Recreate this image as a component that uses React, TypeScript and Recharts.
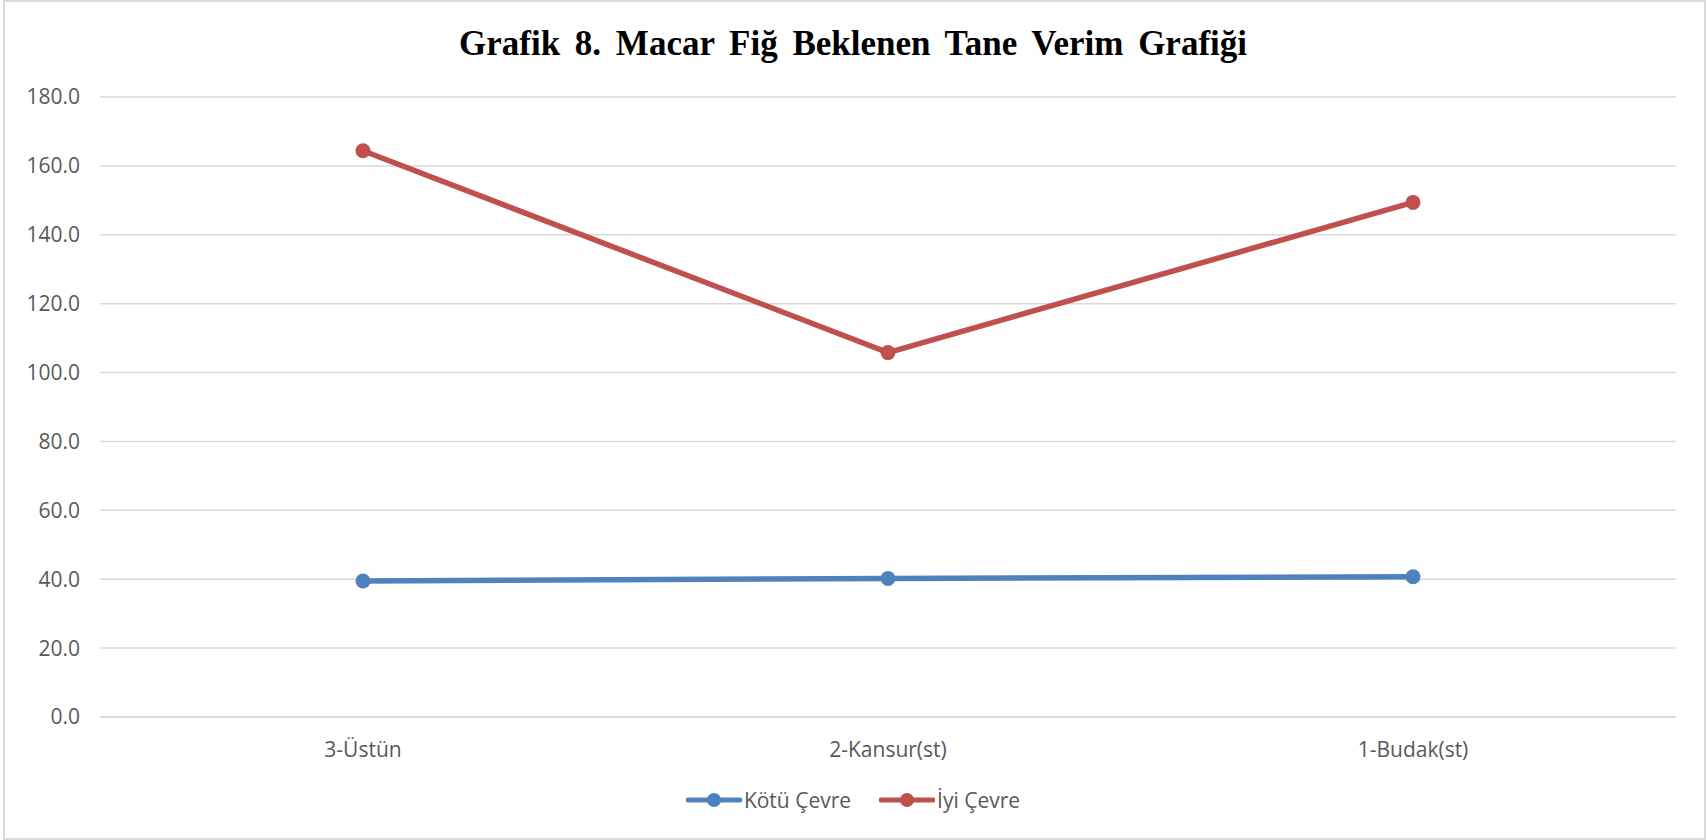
import { LineChart, Line, XAxis, YAxis, CartesianGrid } from "recharts";

const categories = ["3-Üstün", "2-Kansur(st)", "1-Budak(st)"];
const kotuCevre = [39.5, 40.2, 40.7];
const iyiCevre = [164.4, 105.8, 149.4];
const yTicks = [0, 20, 40, 60, 80, 100, 120, 140, 160, 180];

const chartData = categories.map((name, i) => ({
  name,
  kotu: kotuCevre[i],
  iyi: iyiCevre[i],
}));

const BLUE = "#4F81BD";
const RED = "#C0504D";
const TEXT = "#595959";
const FONT = "'Open Sans', sans-serif";

// half a category band, so points sit in the middle like Excel
const HALF_BAND = 263;

const LegendItem = ({ color, label }: { color: string; label: string }) => (
  <div style={{ display: "flex", alignItems: "center", marginRight: 28 }}>
    <svg width={56} height={16}>
      <line x1={2} y1={8} x2={54} y2={8} stroke={color} strokeWidth={5} strokeLinecap="round" />
      <circle cx={28} cy={8} r={7} fill={color} />
    </svg>
    <span style={{ marginLeft: 2, color: TEXT, fontSize: 21, fontFamily: FONT }}>{label}</span>
  </div>
);

export default function App() {
  return (
    <div style={{ position: "absolute", left: 0, top: 0, width: 1706, height: 840, background: "#fff" }}>
      <div
        style={{
          position: "absolute",
          left: 3,
          top: 0,
          width: 1699,
          height: 836,
          border: "2px solid #d9d9d9",
        }}
      />
      <div
        style={{
          position: "absolute",
          top: 21,
          left: 0,
          width: 1706,
          textAlign: "center",
          fontFamily: "'Liberation Serif', 'Times New Roman', serif",
          fontWeight: "bold",
          fontSize: 35,
          lineHeight: "46px",
          wordSpacing: 6,
          color: "#000",
        }}
      >
        Grafik 8. Macar Fiğ Beklenen Tane Verim Grafiği
      </div>
      <div style={{ position: "absolute", left: 0, top: 0 }}>
        <LineChart width={1706} height={840} data={chartData} margin={{ top: 97, right: 30, left: 0, bottom: 0 }}>
          <CartesianGrid vertical={false} stroke="#d9d9d9" strokeWidth={1.5} />
          <XAxis
            dataKey="name"
            height={123}
            padding={{ left: HALF_BAND, right: HALF_BAND }}
            axisLine={{ stroke: "#d9d9d9", strokeWidth: 1.5 }}
            tickLine={false}
            tickSize={0}
            tickMargin={25}
            tick={{ fill: TEXT, fontSize: 21, fontFamily: FONT }}
          />
          <YAxis
            width={100}
            domain={[0, 180]}
            ticks={yTicks}
            axisLine={false}
            tickLine={false}
            tickSize={0}
            tickMargin={20}
            tickFormatter={(v: number) => v.toFixed(1)}
            tick={{ fill: TEXT, fontSize: 21, fontFamily: FONT }}
          />
          <Line
            dataKey="kotu"
            name="Kötü Çevre"
            stroke={BLUE}
            strokeWidth={5.5}
            dot={{ r: 7.5, fill: BLUE, stroke: "none" }}
            activeDot={false}
            isAnimationActive={false}
          />
          <Line
            dataKey="iyi"
            name="İyi Çevre"
            stroke={RED}
            strokeWidth={5.5}
            dot={{ r: 7.5, fill: RED, stroke: "none" }}
            activeDot={false}
            isAnimationActive={false}
          />
        </LineChart>
      </div>
      <div
        style={{
          position: "absolute",
          top: 786,
          left: 0,
          width: 1706,
          display: "flex",
          justifyContent: "center",
          paddingLeft: 28,
          boxSizing: "border-box",
        }}
      >
        <LegendItem color={BLUE} label="Kötü Çevre" />
        <LegendItem color={RED} label="İyi Çevre" />
      </div>
    </div>
  );
}
